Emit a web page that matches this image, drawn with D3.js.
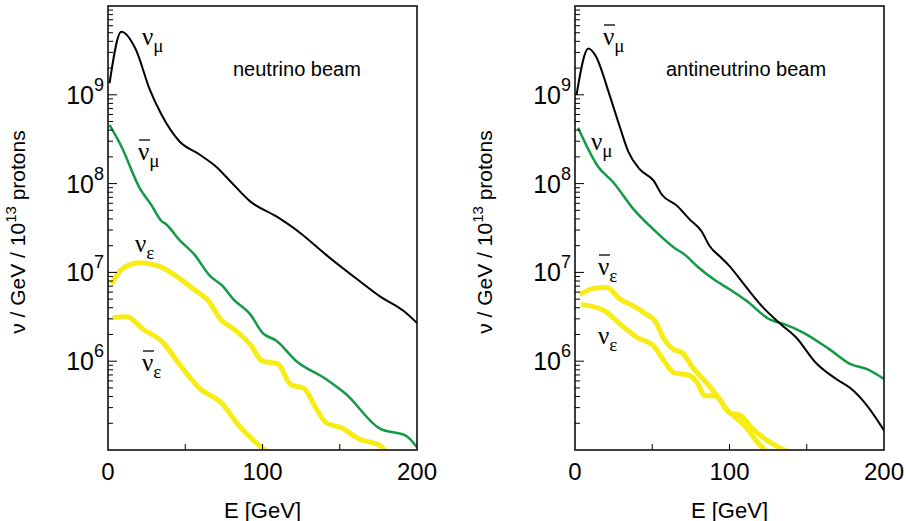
<!DOCTYPE html>
<html><head><meta charset="utf-8">
<script src="https://cdn.jsdelivr.net/npm/d3@7"></script>
<style>body{margin:0;background:#fff}svg{display:block}</style>
</head><body><svg width="906" height="521"></svg>
<script>
// energies [GeV] and log10(flux)
const nbNumu = [[1,9.13],[8.6,9.71],[18,9.51],[27,9.06],[34.5,8.78],[46,8.48],[59,8.33],[70,8.19],[79,8.03],[92,7.80],[109,7.63],[124,7.45],[141,7.20],[163,6.90],[176,6.73],[191,6.57],[200,6.43]];
const nbNumubar = [[1,8.66],[8.6,8.42],[20.5,7.95],[28,7.76],[34.5,7.58],[37.8,7.54],[46,7.37],[56,7.20],[66,6.96],[74,6.85],[81,6.70],[92,6.53],[100,6.32],[109,6.23],[122,6.00],[141,5.80],[154,5.63],[176,5.24],[193,5.16],[200,5.03]];
const nbNue = [[2,6.87],[10,7.05],[20.5,7.11],[33,7.07],[44,6.96],[57,6.79],[64,6.70],[74,6.45],[80,6.38],[92,6.19],[100,6.00],[110,5.97],[118,5.74],[127,5.69],[135,5.46],[141,5.31],[151,5.25],[163,5.12],[176,5.05],[180,4.98]];
const nbNuebar = [[3,6.49],[12,6.50],[22.7,6.36],[35.6,6.21],[46,5.97],[59,5.70],[74,5.52],[84,5.29],[98,5.05],[103,4.98]];

const abNumubar = [[1,9.0],[8.6,9.52],[13,9.45],[22.7,8.98],[29,8.64],[34.5,8.36],[42,8.16],[51,8.03],[56,7.88],[66,7.75],[74,7.60],[82,7.46],[87,7.30],[95,7.16],[100,7.07],[111,6.83],[122,6.60],[133,6.42],[143,6.27],[156,5.98],[169,5.80],[178,5.70],[189,5.50],[200,5.22]];
const abNumu = [[2,8.63],[15,8.19],[25,8.01],[38,7.71],[51,7.48],[64,7.28],[71,7.20],[79,7.07],[90,6.92],[100,6.81],[111,6.68],[126,6.47],[135,6.42],[148,6.32],[165,6.13],[178,5.97],[189,5.91],[200,5.80]];
const abNuebar = [[3,6.75],[12,6.82],[20.5,6.83],[29,6.70],[38,6.62],[46,6.53],[52,6.45],[57,6.27],[64,6.13],[69,6.10],[77,5.91],[83,5.80],[92,5.61],[100,5.42],[107,5.39],[115,5.24],[126,5.09],[138,4.98]];
const abNue = [[4,6.64],[19,6.57],[29,6.42],[40,6.27],[51,6.17],[57,6.02],[64,5.87],[74,5.84],[79,5.76],[84,5.61],[91,5.61],[98,5.46],[105,5.35],[111,5.25],[118,5.09],[124,4.98]];

const xTicks = [0, 100, 200];
const yDecades = [6, 7, 8, 9];

const svg = d3.select('svg');
const BLACK = '#000', GREEN = '#139a47', YELLOW = '#f7ec13';

function panel(x0, x1, title, titleX, curves, labels, id) {
  const top = 6, bot = 450;
  const x = d3.scaleLinear().domain([0, 200]).range([x0, x1]);
  const y = d3.scaleLog().domain([1e5, 1e10]).range([bot, top]);
  const g = svg.append('g');
  g.append('clipPath').attr('id', id).append('rect')
    .attr('x', x0).attr('y', top).attr('width', x1 - x0).attr('height', bot - top);
  const line = d3.line().x(d => x(d[0])).y(d => y(Math.pow(10, d[1]))).curve(d3.curveMonotoneX);
  curves.forEach(c => {
    g.append('path').attr('d', line(c.data)).attr('fill', 'none')
      .attr('stroke', c.color).attr('stroke-width', c.w).attr('stroke-linejoin', 'round')
      .attr('clip-path', `url(#${id})`);
  });
  g.append('rect').attr('x', x0).attr('y', top).attr('width', x1 - x0).attr('height', bot - top)
    .attr('fill', 'none').attr('stroke', '#000').attr('stroke-width', 1.5);
  // y ticks (inside)
  for (let e = 5; e < 10; e++) for (let m = 1; m < 10; m++) {
    const v = m * Math.pow(10, e);
    const len = m === 1 ? 9 : 5;
    if (v <= 1e5) continue;
    g.append('line').attr('x1', x0).attr('x2', x0 + len).attr('y1', y(v)).attr('y2', y(v))
      .attr('stroke', '#000').attr('stroke-width', 1);
  }
  [50, 100, 150].forEach(t => g.append('line').attr('x1', x(t)).attr('x2', x(t))
    .attr('y1', bot).attr('y2', bot - 6).attr('stroke', '#000').attr('stroke-width', 1));
  const F = 'Liberation Sans, Arial, sans-serif';
  xTicks.forEach(t => g.append('text').attr('x', x(t)).attr('y', 480).attr('text-anchor', 'middle')
    .attr('font-family', F).attr('font-size', 24).text(t));
  yDecades.forEach(d => {
    const t = g.append('text').attr('x', x0 - 4).attr('y', y(Math.pow(10, d)) + 9).attr('text-anchor', 'end')
      .attr('font-family', F).attr('font-size', 25);
    t.append('tspan').text('10');
    t.append('tspan').attr('dy', -13).attr('font-size', 18).text(d);
  });
  g.append('text').attr('x', (x0 + x1) / 2).attr('y', 518).attr('text-anchor', 'middle')
    .attr('font-family', F).attr('font-size', 22).text('E [GeV]');
  const yl = g.append('text').attr('transform', `translate(${x0 - 83},232) rotate(-90)`)
    .attr('text-anchor', 'middle').attr('font-family', F).attr('font-size', 21);
  yl.append('tspan').text('ν / GeV / 10');
  yl.append('tspan').attr('dy', -9).attr('font-size', 15).text('13');
  yl.append('tspan').attr('dy', 9).text(' protons');
  g.append('text').attr('x', titleX).attr('y', 76).attr('font-family', F).attr('font-size', 20).text(title);
  labels.forEach(l => {
    const t = g.append('text').attr('x', l.x).attr('y', l.y).attr('font-family', 'Liberation Serif, Times, serif').attr('font-size', 25);
    t.append('tspan').text('ν');
    t.append('tspan').attr('dy', 7).attr('font-size', 19).text(l.sub);
    if (l.bar) g.append('line').attr('x1', l.x + 1).attr('x2', l.x + 12).attr('y1', l.y - 20).attr('y2', l.y - 20)
      .attr('stroke', '#000').attr('stroke-width', 1.3);
  });
}

panel(108, 417, 'neutrino beam', 233,
  [{data: nbNuebar, color: YELLOW, w: 5}, {data: nbNue, color: YELLOW, w: 5},
   {data: nbNumubar, color: GREEN, w: 2.5}, {data: nbNumu, color: BLACK, w: 2}],
  [{x: 142, y: 45, sub: 'μ'}, {x: 138, y: 160, sub: 'μ', bar: true}, {x: 135, y: 252, sub: 'ε'}, {x: 142, y: 371, sub: 'ε', bar: true}],
  'c1');
panel(575, 884, 'antineutrino beam', 666,
  [{data: abNue, color: YELLOW, w: 5}, {data: abNuebar, color: YELLOW, w: 5},
   {data: abNumu, color: GREEN, w: 2.5}, {data: abNumubar, color: BLACK, w: 2}],
  [{x: 603, y: 45, sub: 'μ', bar: true}, {x: 591, y: 150, sub: 'μ'}, {x: 598, y: 275, sub: 'ε', bar: true}, {x: 598, y: 344, sub: 'ε'}],
  'c2');
</script></body></html>
